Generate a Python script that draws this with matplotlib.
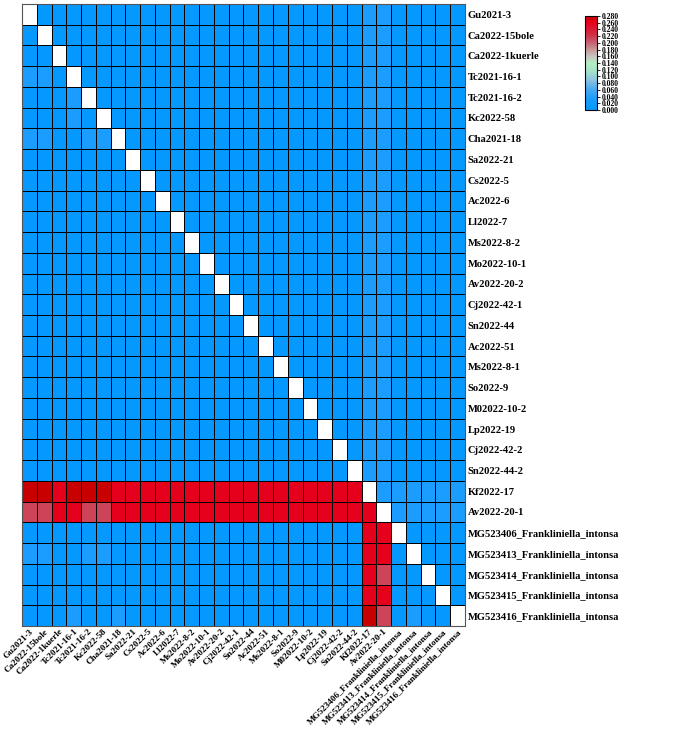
import numpy as np
import matplotlib
matplotlib.use("Agg")
import matplotlib.pyplot as plt
from matplotlib.colors import LinearSegmentedColormap

labels = ["Gu2021-3", "Ca2022-15bole", "Ca2022-1kuerle", "Tc2021-16-1", "Tc2021-16-2",
          "Kc2022-58", "Cha2021-18", "Sa2022-21", "Cs2022-5", "Ac2022-6", "Ll2022-7",
          "Ms2022-8-2", "Mo2022-10-1", "Av2022-20-2", "Cj2022-42-1", "Sn2022-44",
          "Ac2022-51", "Ms2022-8-1", "So2022-9", "M02022-10-2", "Lp2022-19",
          "Cj2022-42-2", "Sn2022-44-2", "Kf2022-17", "Av2022-20-1",
          "MG523406_Frankliniella_intonsa", "MG523413_Frankliniella_intonsa",
          "MG523414_Frankliniella_intonsa", "MG523415_Frankliniella_intonsa",
          "MG523416_Frankliniella_intonsa"]

# cell value codes
code_values = {".": np.nan, "b": 0.006, "l": 0.032, "p": 0.215, "r": 0.262, "d": 0.280}

row_codes = [
    ".bbbb bbbbb bbbbb bbbbb bbbll bbbbb",
    "b.bbb bbbbb bbbbb bbbbb bbbll bbbbb",
    "bb.bb bbbbb bbbbb bbbbb bbbll bbbbb",
    "llb.b bbbbb bbbbb bbbbb bbbll bbbbb",
    "bbbl. bbbbb bbbbb bbbbb bbbll bbbbb",
    "bbblb .bbbb bbbbb bbbbb bbbll bbbbb",
    "llbbl l.bbb bbbbb bbbbb bbbll bbbbb",
    "bbbbb bb.bb bbbbb bbbbb bbbll bbbbb",
    "bbbbb bbb.b bbbbb bbbbb bbbll bbbbb",
    "bbbbb bbbb. bbbbb bbbbb bbbll bbbbb",
    "bbbbb bbbbb .bbbb bbbbb bbbll bbbbb",
    "bbbbb bbbbb b.bbb bbbbb bbbll bbbbb",
    "bbbbb bbbbb bb.bb bbbbb bbbll bbbbb",
    "bbbbb bbbbb bbb.b bbbbb bbbll bbbbb",
    "bbbbb bbbbb bbbb. bbbbb bbbll bbbbb",
    "bbbbb bbbbb bbbbb .bbbb bbbll bbbbb",
    "bbbbb bbbbb bbbbb b.bbb bbbll bbbbb",
    "bbbbb bbbbb bbbbb bb.bb bbbll bbbbb",
    "bbbbb bbbbb bbbbb bbb.b bbbll bbbbb",
    "bbbbb bbbbb bbbbb bbbb. bbbll bbbbb",
    "bbbbb bbbbb bbbbb bbbbb .bbll bbbbb",
    "bbbbb bbbbb bbbbb bbbbb b.bll bbbbb",
    "bbbbb bbbbb bbbbb bbbbb bb.ll bbbbb",
    "ddrdd drrrr rrrrr rrrrr rrr.l lllll",
    "pprrp prrrr rrrrr rrrrr rrrr. lllll",
    "bbbbb bbbbb bbbbb bbbbb bbbrr .bbbb",
    "llbbl lbbbb bbbbb bbbbb bbbrr b.bbb",
    "bbbbb bbbbb bbbbb bbbbb bbbrp bb.bb",
    "bbbbb bbbbb bbbbb bbbbb bbbrr bbb.b",
    "bbblb blbbb bbbbb bbbbb bbbdp blbb.",
]

matrix = np.array([[code_values[c] for c in r.replace(" ", "")] for r in row_codes])

cbar_ticks = [0.000, 0.020, 0.040, 0.060, 0.080, 0.100, 0.120, 0.140,
              0.160, 0.180, 0.200, 0.220, 0.240, 0.260, 0.280]

cmap = LinearSegmentedColormap.from_list("dist", [
    (0.00, "#0099ff"),
    (0.12, "#1c9cff"),
    (0.22, "#4aa8f0"),
    (0.32, "#8cc4e0"),
    (0.42, "#a4e4c8"),
    (0.50, "#b4eec0"),
    (0.57, "#c4c4c4"),
    (0.64, "#c89a9a"),
    (0.72, "#c86070"),
    (0.80, "#d03048"),
    (0.93, "#e8001e"),
    (1.00, "#c80000"),
])
cmap.set_bad("white")

plt.rcParams["font.family"] = ["Liberation Serif", "DejaVu Serif"]
plt.rcParams["font.weight"] = "bold"

fig = plt.figure(figsize=(7.0, 7.31), dpi=100)
ax = fig.add_axes([0.0314, 0.1436, 0.6329, 0.851])
n = len(labels)
mesh = ax.pcolormesh(np.arange(n + 1), np.arange(n + 1), np.ma.masked_invalid(matrix),
                     cmap=cmap, vmin=0, vmax=0.28, edgecolors="black", linewidth=0.55)
ax.set_xlim(0, n)
ax.set_ylim(n, 0)
ax.set_xticks(np.arange(n) + 0.5)
ax.set_yticks(np.arange(n) + 0.5)
ax.set_xticklabels(labels, rotation=45, ha="right", rotation_mode="anchor",
                   fontsize=6.6, fontweight="bold")
ax.set_yticklabels(labels, fontsize=7.6, fontweight="bold")
ax.yaxis.tick_right()
ax.tick_params(axis="x", length=0, pad=1)
ax.tick_params(axis="y", length=0, pad=2)
for s in ax.spines.values():
    s.set_color("#555555")
    s.set_linewidth(0.8)

cax = fig.add_axes([0.836, 0.8495, 0.0171, 0.1286])
cb = fig.colorbar(mesh, cax=cax, ticks=cbar_ticks)
cb.ax.set_yticklabels(["%.3f" % t for t in cbar_ticks], fontsize=5.5, fontweight="bold")
cb.ax.tick_params(length=2, width=0.6, pad=1)
cb.outline.set_linewidth(0.8)

fig.savefig("out.png", dpi=100)
